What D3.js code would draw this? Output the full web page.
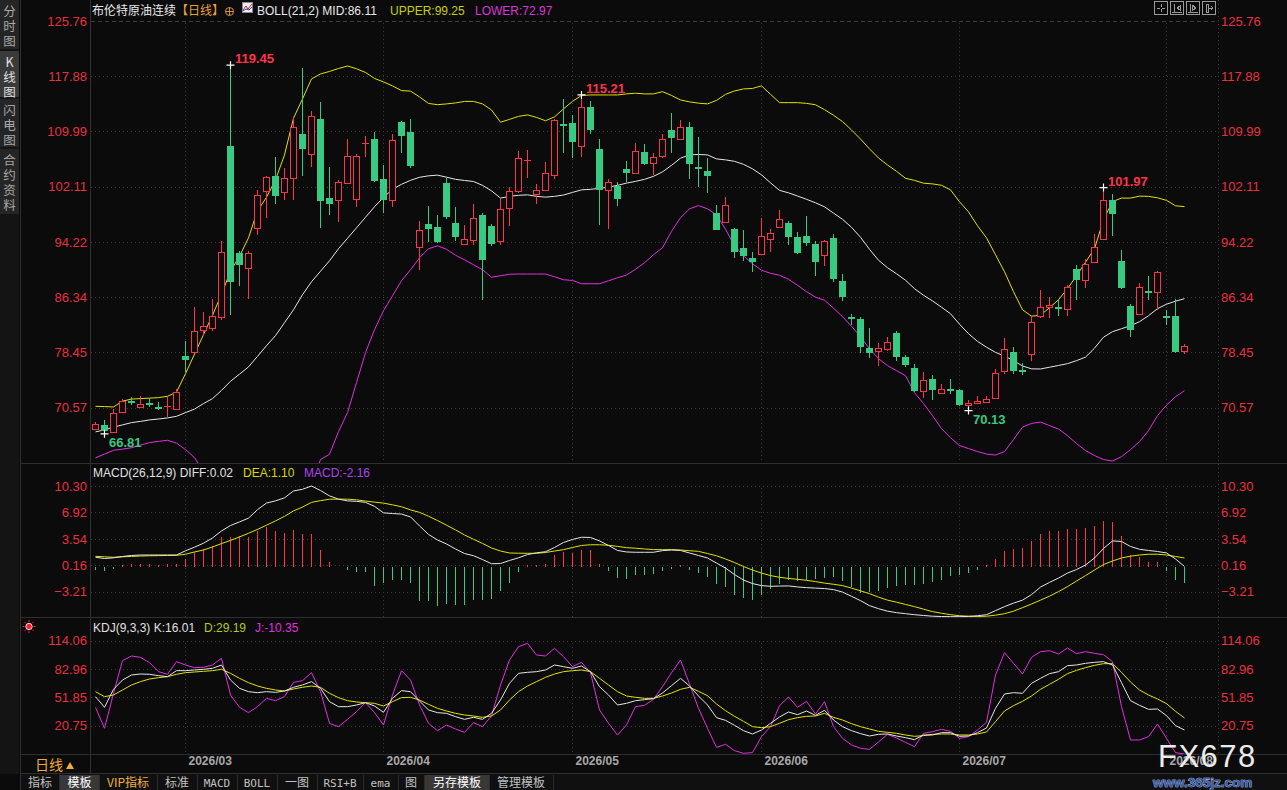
<!DOCTYPE html>
<html>
<head>
<meta charset="utf-8">
<script src="https://cdnjs.cloudflare.com/ajax/libs/d3/7.8.5/d3.min.js"></script>
<style>
  body { margin: 0; background: #0b0b0b; overflow: hidden; }
  svg text { font-family: "Liberation Sans", Arial, sans-serif; }
  .cjk { font-family: "Noto Sans CJK SC", "Noto Sans", sans-serif !important; }
  .mono { font-family: "DejaVu Sans Mono", monospace !important; }
  .vert { writing-mode: vertical-rl; text-orientation: upright; }
</style>
</head>
<body>
<svg id="chart" width="1287" height="790"></svg>
<script>
// trading calendar
var firstDay = '2026-02-16', lastDay = '2026-08-05', holidays = ['2026-04-03'];

var open = [67.56,68.13,67.09,70.03,71.50,70.74,71.15,70.70,70.60,70.41,
  77.97,78.44,81.63,82.01,83.49,107.93,92.62,90.43,96.19,101.51,
  103.65,101.27,103.40,109.64,106.74,111.78,100.51,100.18,102.61,100.32,
  108.25,108.88,103.22,100.13,111.35,109.93,93.48,96.80,96.37,102.65,
  96.90,93.95,94.42,98.08,96.42,94.28,98.98,101.41,105.85,100.98,
  101.61,103.75,111.10,111.17,107.97,113.45,107.50,101.55,102.22,104.65,
  104.03,107.07,105.46,106.40,110.21,108.88,110.60,104.95,104.36,98.33,
  97.04,96.09,93.37,91.95,92.57,94.62,96.33,96.94,94.95,95.09,
  93.95,92.28,94.76,88.67,83.53,83.25,79.11,78.64,78.87,81.21,
  77.83,76.26,72.93,74.69,72.65,73.22,73.12,70.94,71.23,71.36,
  71.93,75.88,78.54,75.90,78.22,83.58,84.92,84.96,84.63,90.38,
  88.77,91.28,94.71,100.22,91.52,85.11,83.92,87.20,87.06,83.68,
  83.58,78.59];
var high = [68.55,68.84,70.41,71.84,72.08,72.27,71.98,71.40,72.08,73.26,
  80.07,84.96,84.24,86.10,94.38,119.45,92.90,92.85,101.61,103.69,
  106.40,104.83,112.11,119.05,112.92,114.20,104.98,103.08,108.93,106.79,
  109.35,109.97,105.22,109.60,111.54,111.74,97.13,99.37,98.08,103.41,
  99.18,96.66,99.65,98.37,96.80,100.32,102.12,107.26,107.36,102.51,
  105.65,111.78,114.63,112.35,115.21,114.35,108.93,103.18,102.84,105.83,
  108.40,108.21,106.97,109.64,112.68,111.64,111.35,109.26,106.17,99.51,
  100.61,96.27,95.85,92.81,97.66,96.09,98.80,97.18,95.66,97.94,
  94.28,94.52,95.38,89.67,83.96,83.53,81.96,79.78,80.64,81.54,
  78.11,76.83,75.65,75.26,73.98,74.69,73.22,71.69,72.17,72.27,
  76.12,80.44,79.16,76.93,83.58,87.39,86.39,85.96,88.10,90.95,
  91.77,95.38,101.97,101.08,93.09,85.39,88.34,89.38,90.10,84.53,
  86.10,79.68];
var low = [67.40,66.81,66.95,70.00,70.88,70.60,70.60,70.20,69.20,70.37,
  75.58,78.40,80.72,81.44,83.10,83.82,87.96,86.10,95.23,97.66,
  99.60,100.22,100.22,103.69,104.98,96.27,98.08,96.99,102.50,99.18,
  106.30,102.70,98.41,99.23,106.89,104.75,90.24,94.19,94.05,97.47,
  94.28,93.90,93.71,85.96,93.66,93.71,96.42,101.27,103.41,99.56,
  101.55,103.26,106.97,106.26,106.40,109.60,96.66,96.05,99.37,102.70,
  104.00,105.17,103.83,106.22,106.97,108.85,103.18,102.04,101.27,95.85,
  97.00,91.85,91.52,89.85,92.50,92.71,96.30,93.80,92.50,93.56,
  89.38,90.71,88.43,85.72,82.29,78.30,77.64,76.45,78.64,77.16,
  76.30,72.80,71.88,71.69,72.45,72.55,70.80,70.13,71.20,71.23,
  71.90,75.30,75.40,75.26,77.16,83.35,83.35,83.68,83.58,85.96,
  87.67,91.20,94.60,94.99,87.49,80.58,83.90,85.96,84.53,82.39,
  78.40,78.25];
var close = [68.27,67.17,69.79,71.55,71.45,71.12,71.10,70.65,70.80,72.79,
  77.40,81.49,82.25,83.68,92.76,88.43,90.95,92.62,100.90,103.46,
  100.70,103.32,110.64,107.50,112.17,100.08,99.70,102.75,106.50,106.50,
  108.30,102.94,100.13,108.74,109.40,105.12,95.90,96.09,94.14,97.76,
  94.90,94.62,97.61,91.67,93.95,98.90,101.46,106.17,105.93,101.61,
  104.03,111.64,111.00,108.54,113.53,110.21,101.65,102.75,100.32,104.12,
  107.21,105.40,106.32,108.88,109.11,110.60,105.32,104.85,103.69,95.95,
  99.51,92.71,92.14,91.28,95.09,95.52,97.47,94.85,92.57,94.00,
  91.28,94.33,88.85,86.39,83.15,79.16,78.30,79.07,79.93,77.73,
  76.59,72.88,74.50,73.12,73.22,73.15,70.88,71.23,71.55,71.74,
  75.55,78.97,75.73,75.80,82.78,84.92,85.25,84.63,87.82,88.71,
  91.09,93.48,100.22,98.13,87.57,81.58,87.77,87.10,89.95,83.35,
  78.44,79.30];

var bollUpper = [70.74,70.70,70.65,71.48,71.77,71.84,71.91,71.98,72.17,72.77,
  75.40,78.19,80.97,83.75,86.74,90.03,92.17,94.80,98.66,100.58,
  103.08,106.64,111.88,114.63,117.49,118.20,118.56,118.98,119.34,118.94,
  118.41,117.56,117.06,116.49,115.82,115.75,114.92,113.99,113.81,113.92,
  114.06,114.28,114.28,113.92,113.06,111.31,111.71,112.14,112.35,111.99,
  111.52,112.07,113.21,114.28,115.13,115.20,115.20,115.20,115.20,115.35,
  115.45,115.35,115.35,115.67,115.13,114.49,114.21,114.03,113.92,114.42,
  115.28,115.77,116.06,116.13,116.50,115.30,114.10,114.10,114.10,114.00,
  113.80,113.10,112.30,111.40,110.20,108.90,107.50,106.20,105.20,104.30,
  103.30,103.00,102.60,102.50,102.30,101.65,99.95,98.51,96.52,94.80,
  92.38,89.95,87.10,84.53,83.61,83.75,84.82,85.96,87.53,89.38,
  91.31,93.24,97.37,99.98,100.47,100.47,100.75,100.72,100.51,100.15,
  99.37,99.25];
var bollMid = [67.09,67.37,67.77,68.09,68.41,68.59,68.80,68.93,69.08,69.31,
  69.84,70.34,71.13,71.84,73.01,74.31,75.33,76.37,77.87,79.40,
  80.83,82.68,84.53,86.67,88.53,90.03,91.52,93.24,94.73,96.23,
  97.73,99.23,100.58,101.72,102.44,103.01,103.44,103.65,103.75,103.46,
  103.15,102.99,102.84,102.29,101.51,100.47,100.72,100.87,100.94,100.72,
  100.61,100.72,100.91,101.28,101.65,101.72,101.87,102.04,102.29,102.61,
  102.86,103.15,103.58,104.22,105.15,106.17,106.64,106.70,106.64,106.07,
  105.93,105.72,105.29,104.65,103.79,102.65,101.58,101.22,100.77,100.30,
  99.80,99.23,98.33,97.44,96.30,94.88,93.16,91.60,90.53,89.67,
  88.74,87.53,86.60,85.79,84.89,83.96,82.47,81.11,80.01,79.18,
  78.44,77.90,77.26,76.50,76.09,76.07,76.32,76.57,76.83,77.26,
  77.76,79.04,80.61,81.40,81.82,82.25,82.82,83.68,84.68,85.32,
  85.75,86.11];
var bollLower = [63.38,63.92,64.46,64.63,64.82,65.20,65.56,65.73,65.89,65.49,
  64.56,63.42,61.40,60.00,59.30,58.60,58.50,58.00,57.10,58.20,
  58.60,58.70,57.20,58.70,59.60,63.14,63.90,67.13,69.84,74.12,
  78.40,81.68,84.39,86.53,88.67,90.24,91.95,93.24,93.66,93.16,
  92.31,91.67,90.95,90.24,89.17,89.38,89.60,89.63,89.63,89.63,
  89.63,89.24,88.81,88.71,88.24,88.24,88.24,88.67,89.10,89.48,
  90.31,91.24,92.38,93.38,95.73,97.66,98.94,99.40,98.94,98.09,
  96.02,93.66,92.24,91.10,90.17,89.74,89.46,88.88,88.03,87.10,
  86.32,85.89,84.75,83.54,82.18,80.68,78.97,77.54,76.55,75.83,
  75.12,72.69,71.13,69.41,67.56,66.27,65.13,64.71,64.28,63.92,
  63.78,64.28,65.99,67.77,68.30,68.49,67.99,67.49,66.56,65.42,
  64.42,63.71,63.14,62.92,63.56,64.56,65.70,67.27,69.41,70.91,
  72.12,72.97];

var macdDiff = [1.19,1.03,1.12,1.29,1.42,1.48,1.48,1.48,1.48,1.48,
  2.02,2.48,2.99,3.66,4.56,5.25,5.71,6.19,7.28,8.12,
  8.40,8.79,9.67,9.88,10.30,9.72,9.04,8.62,8.40,8.34,
  8.21,7.70,6.87,6.78,6.71,6.35,5.20,4.11,3.40,2.89,
  2.25,1.67,1.39,0.90,0.37,0.39,0.78,1.12,1.54,1.76,
  1.90,2.44,3.08,3.47,3.75,3.72,3.28,2.70,2.06,1.87,
  1.83,1.83,1.83,2.04,2.12,2.06,1.74,1.42,1.10,0.45,
  -0.19,-1.02,-1.72,-2.17,-2.43,-2.52,-2.49,-2.47,-2.60,-2.69,
  -2.75,-2.81,-2.94,-3.26,-3.80,-4.35,-4.99,-5.38,-5.70,-5.89,
  -6.02,-6.15,-6.25,-6.34,-6.38,-6.40,-6.40,-6.37,-6.28,-6.15,
  -5.63,-5.12,-4.67,-4.29,-3.58,-2.62,-2.02,-1.47,-0.83,-0.38,
  0.20,1.10,2.31,3.28,3.21,2.57,2.21,2.06,1.93,1.74,
  0.97,0.02];
var macdDea = [1.31,1.25,1.19,1.25,1.30,1.35,1.38,1.40,1.42,1.44,
  1.58,1.87,2.12,2.51,2.94,3.35,3.79,4.26,4.75,5.29,
  5.84,6.42,7.12,7.61,8.21,8.43,8.61,8.62,8.62,8.53,
  8.38,8.24,8.11,7.89,7.65,7.25,6.93,6.44,5.88,5.29,
  4.69,4.04,3.49,2.96,2.38,1.99,1.74,1.71,1.70,1.70,
  1.80,1.99,2.16,2.44,2.70,2.79,2.79,2.72,2.58,2.42,
  2.35,2.25,2.17,2.16,2.16,2.12,2.03,1.95,1.67,1.38,
  0.97,0.52,0.01,-0.44,-0.83,-1.15,-1.37,-1.51,-1.63,-1.75,
  -1.92,-2.11,-2.26,-2.43,-2.75,-3.10,-3.46,-3.90,-4.29,-4.55,
  -4.84,-5.12,-5.44,-5.76,-5.96,-6.15,-6.28,-6.34,-6.38,-6.34,
  -6.21,-6.02,-5.70,-5.25,-4.78,-4.29,-3.78,-3.20,-2.56,-1.85,
  -1.15,-0.44,0.26,0.71,1.10,1.33,1.48,1.58,1.58,1.48,
  1.29,1.10];
var macdBar = [-0.45,-0.58,-0.32,0.19,0.32,0.32,0.28,0.19,0.28,0.32,
  0.96,1.90,2.20,2.63,3.74,3.74,3.91,3.74,4.55,5.03,
  4.55,4.33,4.68,4.17,4.17,2.12,0.62,-0.10,-0.45,-0.67,
  -0.74,-2.50,-2.15,-1.73,-1.73,-2.12,-4.46,-4.38,-5.03,-4.81,
  -4.90,-4.90,-4.26,-4.26,-4.13,-3.10,-2.12,-0.71,0.15,0.15,
  0.32,1.44,1.86,1.73,2.15,2.15,0.32,-0.54,-1.47,-1.56,
  -1.05,-1.05,-0.96,-0.54,-0.28,0.15,-0.41,-0.83,-1.39,-2.24,
  -2.67,-3.62,-4.04,-4.26,-3.62,-2.86,-2.24,-1.69,-1.82,-1.69,
  -1.56,-1.47,-1.39,-1.82,-2.67,-3.40,-3.31,-3.18,-2.76,-2.54,
  -2.33,-2.41,-2.24,-1.99,-1.69,-1.26,-1.05,-0.83,-0.41,0.15,
  1.00,2.03,2.28,2.37,3.31,4.17,4.60,4.60,4.81,4.85,
  4.94,5.16,5.88,5.71,3.87,1.51,1.18,0.58,0.58,-0.62,
  -1.69,-2.16];

var kdjK = [52.63,40.92,60.68,70.92,76.41,77.51,77.15,75.68,74.58,81.17,
  81.17,81.90,82.63,83.73,87.39,70.92,61.78,58.12,57.02,58.12,
  57.39,58.85,62.88,65.44,69.10,61.78,47.14,41.65,41.65,43.48,
  46.04,42.38,35.43,50.80,59.22,58.12,47.87,37.99,35.07,34.33,
  30.68,27.75,29.94,27.75,34.33,48.97,67.27,78.24,79.34,80.07,
  81.90,87.39,85.56,83.73,86.29,80.07,63.61,54.46,43.48,45.31,
  48.24,49.34,50.43,56.65,64.70,72.75,64.34,53.36,43.48,29.58,
  26.65,21.16,15.31,11.65,16.04,23.36,30.31,35.80,32.87,36.90,
  32.14,37.63,27.02,19.70,15.31,12.02,9.45,11.28,11.65,9.45,
  7.62,5.43,10.55,10.55,13.11,13.11,9.09,9.45,13.11,18.24,
  39.82,55.56,57.02,56.29,67.27,72.75,77.88,80.07,86.66,87.39,
  89.22,90.32,91.05,87.39,68.00,48.24,43.12,38.73,39.09,31.77,
  20.80,16.01];
var kdjD = [58.12,52.63,54.46,59.95,65.44,69.10,72.02,73.49,74.58,77.15,
  78.97,79.71,80.44,81.17,82.63,78.24,72.75,68.00,64.34,61.78,
  59.95,58.85,61.05,62.88,64.34,62.88,56.29,51.53,48.24,46.78,
  46.04,45.31,42.38,47.14,51.53,51.90,48.97,44.21,39.82,36.90,
  34.33,32.51,31.41,29.94,31.41,37.99,48.97,58.12,64.34,69.10,
  73.85,77.51,80.07,81.17,81.90,80.07,72.75,65.44,58.12,53.36,
  51.90,50.80,50.80,53.36,56.65,60.68,62.88,58.48,53.73,44.58,
  37.26,31.04,25.55,19.70,18.60,19.70,23.36,27.38,29.58,31.04,
  31.41,34.33,29.94,27.02,22.99,19.70,17.14,14.58,13.48,12.38,
  10.55,9.09,9.82,11.28,11.65,11.65,10.55,10.55,11.65,13.84,
  25.19,36.90,42.75,47.51,53.36,60.68,66.17,71.66,77.88,81.54,
  84.46,87.02,88.85,88.85,79.34,68.73,59.95,54.46,50.07,44.94,
  36.53,29.19];
var kdjJ = [40.92,17.87,56.29,92.15,97.27,95.81,89.95,80.07,77.15,91.05,
  87.39,84.46,84.83,87.39,94.71,54.46,40.92,35.07,41.65,50.80,
  48.24,52.63,68.36,70.19,78.97,58.12,23.36,19.70,27.75,36.16,
  46.04,35.07,21.53,54.46,81.17,70.92,43.48,23.36,15.31,21.53,
  17.14,13.48,24.09,19.70,31.41,65.44,92.88,107.51,111.17,98.37,
  97.27,105.69,96.54,85.56,90.32,78.97,37.99,23.36,10.55,21.53,
  41.65,43.12,49.70,63.61,78.97,92.88,66.53,39.82,17.87,-2.99,
  0.31,-6.65,-9.57,-8.84,8.72,19.70,42.75,52.26,40.92,47.51,
  33.60,47.14,19.70,6.89,-0.43,-4.08,-5.18,2.87,11.28,7.26,
  2.50,-2.26,12.38,14.21,16.77,14.58,6.89,8.72,16.04,24.46,
  76.41,100.93,89.22,77.51,95.81,102.03,103.12,99.47,106.05,99.83,
  102.03,100.20,98.73,91.05,41.65,5.06,5.06,8.72,22.63,6.89,
  -8.84,-10.35];

var priceTicks = [125.76, 117.88, 109.99, 102.11, 94.22, 86.34, 78.45, 70.57];
var macdTicks = [10.30, 6.92, 3.54, 0.16, -3.21];
var kdjTicks = [114.06, 82.96, 51.85, 20.75];
var extremes = [{i: 15, kind: 'high'}, {i: 1, kind: 'low'}, {i: 54, kind: 'high'},
                {i: 97, kind: 'low'}, {i: 112, kind: 'high'}];

var RED = '#ff3448', GREEN = '#38c982', AXIS_RED = '#e8303f', BG = '#0b0b0b',
    LINE = '#2f2f2f', GRID = '#3c3c3c', YELLOW = '#e2e200', MAGENTA = '#e22ee2', WHITE = '#e6e6e6';

var svg = d3.select('#chart');

function tradingDays() {
  var out = [], d = new Date(firstDay + 'T00:00:00Z'), end = new Date(lastDay + 'T00:00:00Z');
  while (d <= end) {
    var wd = d.getUTCDay(), s = d.toISOString().slice(0, 10);
    if (wd > 0 && wd < 6 && holidays.indexOf(s) < 0) out.push(s);
    d.setUTCDate(d.getUTCDate() + 1);
  }
  return out;
}

var dates = tradingDays();
var idx = d3.range(dates.length);
var monthStarts = idx.filter(function (i) { return i > 0 && dates[i].slice(5, 7) !== dates[i - 1].slice(5, 7); });

var x = d3.scalePoint().domain(idx).range([95, 1184]);
var yMain = d3.scaleLinear().domain([70.57, 125.76]).range([407.5, 21]);
var yMacd = d3.scaleLinear().domain([-3.21, 10.30]).range([591.7, 486]);
var yKdj = d3.scaleLinear().domain([20.75, 114.06]).range([725.7, 640.7]);

var panes = {
  main: {top: 21, bottom: 463, clipTop: 21, scale: yMain, ticks: priceTicks},
  macd: {top: 486, bottom: 617, clipTop: 465, scale: yMacd, ticks: macdTicks},
  kdj: {top: 641, bottom: 754, clipTop: 619, scale: yKdj, ticks: kdjTicks}
};

function px(v) { return Math.round(v) + 0.5; }

function drawFrame() {
  svg.append('rect').attr('width', 1287).attr('height', 790).attr('fill', BG);

  // left tab strip, vertical labels
  svg.append('rect').attr('x', 0).attr('y', 0).attr('width', 19).attr('height', 774).attr('fill', '#141414');
  var tabs = [{t: '分时图', y0: 0, y1: 49}, {t: 'K线图', y0: 51, y1: 97, on: true},
              {t: '闪电图', y0: 99, y1: 147}, {t: '合约资料', y0: 149, y1: 214}];
  tabs.forEach(function (tab) {
    svg.append('rect').attr('x', 0).attr('y', tab.y0).attr('width', 19).attr('height', tab.y1 - tab.y0)
       .attr('fill', tab.on ? '#3a3a3a' : '#252525');
    svg.append('text').attr('class', 'cjk vert').attr('x', 9.5).attr('y', tab.y0 + 5)
       .attr('font-size', 12.5).attr('letter-spacing', 2.5)
       .attr('fill', tab.on ? '#e0e0e0' : '#a8a8a8').text(tab.t);
  });

  var frame = svg.append('g').attr('stroke', LINE).attr('shape-rendering', 'crispEdges');
  frame.append('line').attr('x1', 20.5).attr('x2', 20.5).attr('y1', 0).attr('y2', 790);
  frame.append('line').attr('x1', 90.5).attr('x2', 90.5).attr('y1', 0).attr('y2', 774);
  [463.5, 617.5, 754.5, 773.5].forEach(function (y) {
    frame.append('line').attr('x1', 20).attr('x2', 1287).attr('y1', y).attr('y2', y);
  });
  svg.append('line').attr('x1', 1218.5).attr('x2', 1218.5).attr('y1', 0).attr('y2', 754)
     .attr('stroke', GRID).attr('stroke-dasharray', '1,3');
}

function drawGrid(p, dashedTop) {
  var g = svg.append('g').attr('shape-rendering', 'crispEdges');
  g.selectAll('line.h').data(p.ticks).join('line')
    .attr('x1', 91).attr('x2', 1218)
    .attr('y1', function (d) { return px(p.scale(d)); })
    .attr('y2', function (d) { return px(p.scale(d)); })
    .attr('stroke', GRID)
    .attr('stroke-dasharray', function (d, k) { return dashedTop && k === 0 ? '4,3' : '1,3'; });
  g.selectAll('line.v').data(monthStarts).join('line')
    .attr('x1', function (i) { return px(x(i)); }).attr('x2', function (i) { return px(x(i)); })
    .attr('y1', p.top + 2).attr('y2', p.bottom)
    .attr('stroke', GRID).attr('stroke-dasharray', '1,3');
}

function drawAxis(p) {
  [['left', 87], ['right', 1221]].forEach(function (side) {
    var ax = (side[0] === 'left' ? d3.axisLeft(p.scale) : d3.axisRight(p.scale))
      .tickValues(p.ticks).tickSize(0).tickPadding(0).tickFormat(d3.format('.2f'));
    var g = svg.append('g').attr('transform', 'translate(' + side[1] + ',0)').call(ax)
      .attr('font-size', 13).attr('font-family', '"Liberation Sans", Arial, sans-serif');
    g.select('.domain').remove();
    g.selectAll('text').attr('fill', AXIS_RED);
  });
}

function clipFor(name, p) {
  svg.append('clipPath').attr('id', 'clip-' + name).append('rect')
    .attr('x', 91).attr('y', p.clipTop).attr('width', 1127).attr('height', p.bottom - p.clipTop);
  return svg.append('g').attr('clip-path', 'url(#clip-' + name + ')');
}

function lineOf(values, scale, color, g) {
  var gen = d3.line().x(function (d, i) { return x(i) + 0.5; }).y(function (d) { return scale(d); });
  g.append('path').datum(values).attr('d', gen).attr('fill', 'none').attr('stroke', color).attr('stroke-width', 1);
}

function drawCandles(g) {
  var c = g.selectAll('g.candle').data(idx).join('g').attr('class', 'candle').attr('shape-rendering', 'crispEdges');
  c.each(function (i) {
    var el = d3.select(this), up = close[i] >= open[i], col = up ? RED : GREEN,
        cx = x(i), top = yMain(Math.max(open[i], close[i])), bot = yMain(Math.min(open[i], close[i]));
    el.append('line').attr('x1', cx + 0.5).attr('x2', cx + 0.5)
      .attr('y1', yMain(high[i])).attr('y2', yMain(low[i])).attr('stroke', col);
    if (bot - top < 1.5) {
      el.append('line').attr('x1', cx - 3).attr('x2', cx + 4).attr('y1', px(top)).attr('y2', px(top))
        .attr('stroke', col).attr('stroke-width', up ? 1 : 2);
    } else if (up) {
      el.append('rect').attr('x', cx - 2.5).attr('y', px(top)).attr('width', 6).attr('height', Math.round(bot - top))
        .attr('fill', BG).attr('stroke', col);
    } else {
      el.append('rect').attr('x', cx - 3).attr('y', top).attr('width', 7).attr('height', bot - top).attr('fill', col);
    }
  });

  extremes.forEach(function (m) {
    var v = m.kind === 'high' ? high[m.i] : low[m.i], cx = x(m.i) + 0.5, cy = yMain(v);
    g.append('path').attr('d', 'M' + (cx - 4) + ',' + cy + 'h8M' + cx + ',' + (cy - 4) + 'v8')
      .attr('stroke', '#fff').attr('stroke-width', 1.2);
    g.append('text').attr('x', cx + 4.5).attr('y', m.kind === 'high' ? cy - 2 : cy + 13)
      .attr('font-size', 13).attr('font-weight', 'bold').attr('fill', m.kind === 'high' ? RED : GREEN)
      .text(v.toFixed(2));
  });
}

function drawMacd(g) {
  g.selectAll('line.bar').data(idx).join('line')
    .attr('x1', function (i) { return x(i) + 0.5; }).attr('x2', function (i) { return x(i) + 0.5; })
    .attr('y1', yMacd(0)).attr('y2', function (i) { return yMacd(macdBar[i]); })
    .attr('stroke', function (i) { return macdBar[i] >= 0 ? RED : GREEN; })
    .attr('shape-rendering', 'crispEdges');
  lineOf(macdDea, yMacd, YELLOW, g);
  lineOf(macdDiff, yMacd, WHITE, g);
}

function headerRow(y, parts) {
  var t = svg.append('text').attr('y', y).attr('font-size', 12);
  parts.forEach(function (p) {
    t.append('tspan').attr('x', p.x).attr('fill', p.c).attr('class', p.cjk ? 'cjk' : null).text(p.s);
  });
}

function drawHeaders() {
  var n = dates.length - 1;
  headerRow(15, [{x: 92, s: '布伦特原油连续', c: '#e8e8e8', cjk: true},
                 {x: 176, s: '【日线】', c: '#e8a040', cjk: true},
                 {x: 257, s: 'BOLL(21,2) MID:' + bollMid[n].toFixed(2), c: '#e8e8e8'},
                 {x: 390, s: 'UPPER:' + bollUpper[n].toFixed(2), c: '#c8d000'},
                 {x: 475, s: 'LOWER:' + bollLower[n].toFixed(2), c: '#d836d8'}]);
  // small icons after the title
  svg.append('circle').attr('cx', 229.5).attr('cy', 11.5).attr('r', 4).attr('fill', 'none').attr('stroke', '#d09040');
  svg.append('path').attr('d', 'M225.5,11.5h8M229.5,7.5v8').attr('stroke', '#d09040');
  svg.append('rect').attr('x', 242.5).attr('y', 2.5).attr('width', 10).attr('height', 10).attr('fill', '#f0f0f0').attr('stroke', '#888');
  svg.append('path').attr('d', 'M243,10l3,-4l2,3l4,-5').attr('fill', 'none').attr('stroke', '#e02020');
  svg.append('path').attr('d', 'M243,11l3,-2l3,1l3,-3').attr('fill', 'none').attr('stroke', '#2040e0');

  headerRow(477, [{x: 93, s: 'MACD(26,12,9) DIFF:' + macdDiff[n].toFixed(2), c: '#e0e0e0'},
                  {x: 243, s: 'DEA:' + macdDea[n].toFixed(2), c: '#d8d800'},
                  {x: 304, s: 'MACD:' + macdBar[n].toFixed(2), c: '#b040f0'}]);
  headerRow(632, [{x: 93, s: 'KDJ(9,3,3) K:' + kdjK[n].toFixed(2), c: '#e0e0e0'},
                  {x: 204, s: 'D:' + kdjD[n].toFixed(2), c: '#b8c820'},
                  {x: 255, s: 'J:' + kdjJ[n].toFixed(2), c: '#e030e0'}]);

  // red sun marker at the left of the KDJ pane
  var sun = svg.append('g').attr('transform', 'translate(29,626.5)');
  d3.range(8).forEach(function (k) {
    var a = k * Math.PI / 4;
    sun.append('line').attr('x1', Math.cos(a) * 4.5).attr('y1', Math.sin(a) * 4.5)
       .attr('x2', Math.cos(a) * 6.5).attr('y2', Math.sin(a) * 6.5).attr('stroke', '#ff2030');
  });
  sun.append('circle').attr('r', 3.2).attr('fill', '#ff2030').attr('stroke', '#fff').attr('stroke-width', 0.8);

  // top right tool buttons
  var tools = svg.append('g').attr('stroke', '#9a9a9a').attr('fill', 'none').attr('shape-rendering', 'crispEdges');
  [1154, 1170, 1186, 1202].forEach(function (bx, k) {
    tools.append('rect').attr('x', bx + 0.5).attr('y', 1.5).attr('width', 13).attr('height', 13);
    var cx = bx + 7, cy = 8;
    if (k === 0) tools.append('path').attr('d', 'M' + (cx - 4) + ',' + cy + 'h3M' + (cx + 1) + ',' + cy + 'h3M' + cx + ',' + (cy - 4) + 'v3M' + cx + ',' + (cy + 1) + 'v3');
    if (k === 1) tools.append('path').attr('d', 'M' + (cx - 3) + ',' + (cy - 4) + 'v8M' + (cx - 5) + ',' + (cy + 4) + 'h10M' + (cx + 3) + ',' + (cy - 2) + 'l-3,2l3,2z');
    if (k === 2) tools.append('path').attr('d', 'M' + (cx - 3) + ',' + (cy - 4) + 'v8M' + (cx - 5) + ',' + (cy + 4) + 'h10M' + (cx - 1) + ',' + (cy - 3) + 'l4,3l-4,3z');
    if (k === 3) tools.append('path').attr('d', 'M' + (cx - 3) + ',' + (cy - 4) + 'v8h2v-8zM' + (cx - 1) + ',' + cy + 'h4M' + (cx + 2) + ',' + (cy - 2) + 'l2,2l-2,2');
  });
}

function drawBottom() {
  // month labels
  var ax = d3.axisBottom(x).tickValues(monthStarts).tickSize(0).tickPadding(0)
    .tickFormat(function (i) { return dates[i].slice(0, 7).replace('-', '/'); });
  var g = svg.append('g').attr('transform', 'translate(0,756)').call(ax)
    .attr('font-size', 12).attr('font-weight', 'bold').attr('font-family', '"Liberation Sans", Arial, sans-serif');
  g.select('.domain').remove();
  g.selectAll('text').attr('fill', '#a8a8a8').attr('text-anchor', 'start').attr('dx', 3).attr('dy', '0.72em');
  svg.append('line').attr('x1', 90.5).attr('x2', 90.5).attr('y1', 755).attr('y2', 773).attr('stroke', LINE);
  svg.append('text').attr('class', 'cjk').attr('x', 35).attr('y', 770).attr('font-size', 14).attr('fill', '#f0aa38').text('日线');
  svg.append('path').attr('d', 'M66,769l4,-7l4,7z').attr('fill', '#f0aa38');

  // toolbar
  svg.append('rect').attr('x', 21).attr('y', 774).attr('width', 1266).attr('height', 16).attr('fill', '#101010');
  var items = [['指标', 21, 59], ['模板', 60, 99, 1], ['VIP指标', 99, 157, 0, '#f0b040'], ['标准', 157, 197],
               ['MACD', 197, 237], ['BOLL', 237, 277], ['一图', 277, 317], ['RSI+B', 317, 363], ['ema', 363, 398],
               ['图', 398, 424], ['另存模板', 425, 489, 1], ['管理模板', 489, 553]];
  items.forEach(function (it) {
    var latin = /^[A-Za-z+]+$/.test(it[0]);
    if (it[3]) svg.append('rect').attr('x', it[1]).attr('y', 775).attr('width', it[2] - it[1]).attr('height', 15).attr('fill', '#383838');
    svg.append('line').attr('x1', it[2] + 0.5).attr('x2', it[2] + 0.5).attr('y1', 775).attr('y2', 790).attr('stroke', '#2c2c2c');
    svg.append('text').attr('class', latin ? 'mono' : 'cjk').attr('x', (it[1] + it[2]) / 2).attr('y', 787).attr('text-anchor', 'middle')
      .attr('font-size', latin ? 11 : 12).attr('fill', it[4] || (it[3] ? '#ffffff' : '#c0c0c0')).text(it[0]);
  });

  // watermark logo
  svg.append('text').attr('x', 1158).attr('y', 767).attr('font-size', 31).attr('fill', '#ececec')
    .attr('font-family', '"DejaVu Sans", sans-serif').attr('letter-spacing', 1.5).text('FX678');
  svg.append('text').attr('x', 1153).attr('y', 787).attr('font-size', 13.5).attr('font-weight', 'bold')
    .attr('fill', '#3a5cb0').attr('stroke', '#d8e0f0').attr('stroke-width', 0.6).attr('paint-order', 'stroke')
    .text('www.365jz.com');
}

drawFrame();
drawGrid(panes.main, true);
drawGrid(panes.macd, false);
drawGrid(panes.kdj, false);
drawAxis(panes.main);
drawAxis(panes.macd);
drawAxis(panes.kdj);

var gMain = clipFor('main', panes.main);
lineOf(bollUpper, yMain, YELLOW, gMain);
lineOf(bollMid, yMain, WHITE, gMain);
lineOf(bollLower, yMain, MAGENTA, gMain);
drawCandles(gMain);

drawMacd(clipFor('macd', panes.macd));

var gKdj = clipFor('kdj', panes.kdj);
lineOf(kdjJ, yKdj, MAGENTA, gKdj);
lineOf(kdjD, yKdj, YELLOW, gKdj);
lineOf(kdjK, yKdj, WHITE, gKdj);

drawHeaders();
drawBottom();
</script>
</body>
</html>
